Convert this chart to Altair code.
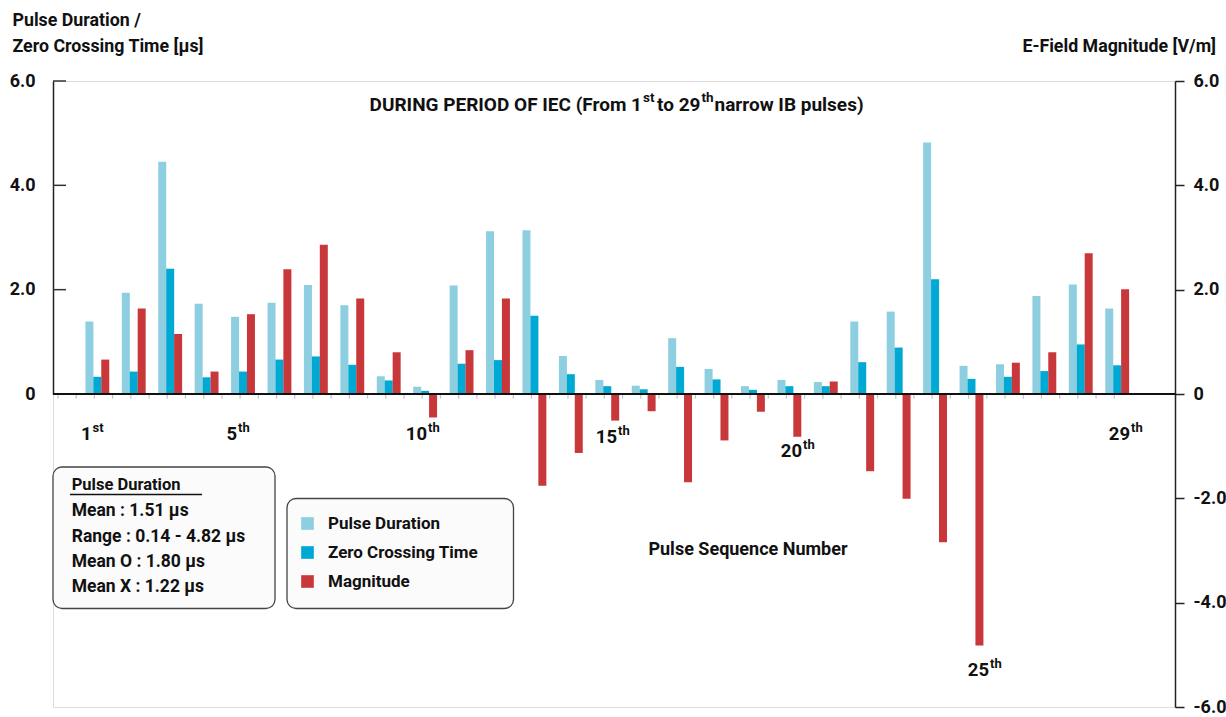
import altair as alt
import pandas as pd

# ---------------------------------------------------------------- data
pulse_no = list(range(1, 30))
pulse_duration = [1.39, 1.94, 4.45, 1.73, 1.48, 1.75, 2.09, 1.70, 0.34, 0.14,
                  2.08, 3.12, 3.14, 0.73, 0.27, 0.16, 1.07, 0.48, 0.15, 0.27,
                  0.23, 1.39, 1.58, 4.82, 0.54, 0.57, 1.88, 2.10, 1.64]
zero_crossing = [0.33, 0.43, 2.40, 0.32, 0.43, 0.66, 0.72, 0.56, 0.26, 0.06,
                 0.58, 0.65, 1.50, 0.38, 0.15, 0.09, 0.52, 0.28, 0.08, 0.15,
                 0.15, 0.61, 0.89, 2.20, 0.29, 0.33, 0.44, 0.95, 0.55]
magnitude = [0.66, 1.64, 1.15, 0.43, 1.53, 2.39, 2.86, 1.83, 0.80, -0.45,
             0.84, 1.83, -1.76, -1.13, -0.51, -0.33, -1.69, -0.89, -0.34, -0.82,
             0.24, -1.48, -2.01, -2.84, -4.82, 0.60, 0.80, 2.70, 2.01]

series_names = ["Pulse Duration", "Zero Crossing Time", "Magnitude"]
series_colors = ["#8dcfe0", "#00a9d4", "#c8383b"]
series_slot = [-1, 0, 1]

left_ticks = [0, 2, 4, 6]
right_ticks = [-6, -4, -2, 0, 2, 4, 6]

ordinal_numbers = [1, 5, 10, 15, 20, 25, 29]
ordinal_suffixes = ["st", "th", "th", "th", "th", "th", "th"]

stats_heading = "Pulse Duration"
stats_lines = ["Mean : 1.51 µs", "Range : 0.14 - 4.82 µs",
               "Mean O : 1.80 µs", "Mean X : 1.22 µs"]

# -------------------------------------------------------------- layout
FONT = "Roboto"
W, H = 1122, 626
X_MAX = 30.53            # x domain in pulse units
BAR = 8 * X_MAX / W      # one bar (8 px) in pulse units
SHIFT = 0.08             # groups sit slightly right of the index ticks

# anchor (pixel) where each ordinal number ends and its suffix starts
ordinal_anchor = [(38.5, 359), (184, 359), (374, 359), (564, 362),
                  (749, 376), (936, 595), (1077, 359)]

rows = []
for name, vals, slot in zip(series_names,
                            [pulse_duration, zero_crossing, magnitude],
                            series_slot):
    for p, v in zip(pulse_no, vals):
        rows.append({"pulse": p, "series": name, "value": v, "slot": slot})
bars_df = pd.DataFrame(rows)

x_scale = alt.Scale(domain=[0, X_MAX], nice=False, zero=False)
color_enc = alt.Color(
    "series:N",
    scale=alt.Scale(domain=series_names, range=series_colors),
    legend=alt.Legend(
        title=None, orient="none", legendX=246, legendY=434,
        direction="vertical", symbolType="square", symbolSize=160,
        symbolStrokeWidth=0, labelFont=FONT, labelFontSize=17,
        labelFontWeight="bold", labelColor="#111", labelOffset=12,
        labelLimit=400, rowPadding=11, padding=0,
    ),
)

base = alt.Chart(bars_df).transform_calculate(
    pos=f"datum.pulse + {SHIFT} + datum.slot * {BAR}"
)

# ---- left group: durations in microseconds (0 .. 6 on upper half)
left_y_scale = alt.Scale(domain=[0, 6], range=[H / 2, 0], nice=False, zero=False)
left_axis = alt.Axis(
    orient="left", values=left_ticks, title=None, grid=False,
    ticks=False, tickSize=0, labelPadding=18,
    labelExpr="datum.value == 0 ? '0' : format(datum.value, '.1f')",
    labelFont=FONT, labelFontSize=18, labelFontWeight="bold",
    labelColor="#111", domainColor="#222", domainWidth=1.5,
)

left_bars = base.transform_filter("datum.series != 'Magnitude'").mark_bar(
    size=8
).encode(
    x=alt.X("pos:Q", scale=x_scale, axis=None),
    y=alt.Y("value:Q", scale=left_y_scale, axis=left_axis),
    color=color_enc,
)

inner_ticks = alt.Chart(pd.DataFrame({"v": left_ticks[1:]})).mark_rule(
    color="#333", strokeWidth=1.5
).encode(
    y=alt.Y("v:Q", scale=left_y_scale, axis=left_axis),
    x=alt.value(0),
    x2=alt.value(13),
)

left_group = alt.layer(left_bars, inner_ticks)

# ---- right group: E-field magnitude in V/m (-6 .. 6)
right_y_scale = alt.Scale(domain=[-6, 6], nice=False, zero=False)
right_axis = alt.Axis(
    orient="right", values=right_ticks, title=None, grid=False,
    tickSize=9, tickColor="#222", tickWidth=1.5, labelPadding=9,
    labelExpr=("datum.value == 0 ? '0' : (datum.value < 0 ? '-' + "
               "format(-datum.value, '.1f') : format(datum.value, '.1f'))"),
    labelFont=FONT, labelFontSize=18, labelFontWeight="bold",
    labelColor="#111", domainColor="#222", domainWidth=1.5,
)

red_bars = base.transform_filter("datum.series == 'Magnitude'").mark_bar(
    size=8
).encode(
    x=alt.X("pos:Q", scale=x_scale, axis=None),
    y=alt.Y("value:Q", scale=right_y_scale, axis=right_axis),
    color=color_enc,
)

zero_line = alt.Chart(pd.DataFrame({"v": [0]})).mark_rule(
    color="#111", strokeWidth=2
).encode(
    y=alt.Y("v:Q", scale=right_y_scale, axis=right_axis),
    x=alt.value(0),
    x2=alt.value(W),
)

tick_df = pd.DataFrame({"t": [k * 0.5 for k in range(0, 59)],
                        "y0": 0.0, "y1": -0.09})
x_ticks = alt.Chart(tick_df).mark_rule(color="#c4c4c4", strokeWidth=1.2).encode(
    x=alt.X("t:Q", scale=x_scale, axis=None),
    y=alt.Y("y0:Q", scale=right_y_scale, axis=right_axis),
    y2="y1:Q",
)

right_group = alt.layer(x_ticks, red_bars, zero_line)

# ---- boxes behind the summary text and the legend
box_df = pd.DataFrame({"x0": [0, 234], "x1": [222, 460.5],
                       "y0": [386, 417.5], "y1": [527.5, 527.5]})
boxes = alt.Chart(box_df).mark_rect(
    cornerRadius=9, fill="#fcfbfb", stroke="#444", strokeWidth=1.3
).encode(
    x=alt.X("x0:Q", scale=None, axis=None), x2="x1:Q",
    y=alt.Y("y0:Q", scale=None, axis=None), y2="y1:Q",
)

underline = alt.Chart(pd.DataFrame({"x0": [17], "x1": [149], "y": [413.5]})).mark_rule(
    color="#111", strokeWidth=1.5
).encode(
    x=alt.X("x0:Q", scale=None, axis=None), x2="x1:Q",
    y=alt.Y("y:Q", scale=None, axis=None),
)


# ---- text annotations (pixel positions inside the plot frame)
def text_layer(items, align):
    df = pd.DataFrame(items, columns=["text", "tx", "ty", "fs"])
    return alt.Chart(df).mark_text(
        align=align, baseline="alphabetic", font=FONT,
        fontWeight="bold", color="#111",
    ).encode(
        x=alt.X("tx:Q", scale=None, axis=None),
        y=alt.Y("ty:Q", scale=None, axis=None),
        size=alt.Size("fs:Q", scale=None, legend=None),
        text="text:N",
    )


left_items = [
    ("Pulse Duration /", -40.5, -55, 17.8),
    ("Zero Crossing Time [µs]", -40.5, -29.3, 17.8),
    ("st", 590, 21, 13.5),
    ("to 29", 604, 29.5, 19),
    ("th", 648.5, 21, 13.5),
    ("narrow IB pulses)", 661.5, 29.5, 19),
    (stats_heading, 18.7, 409, 16.5),
]
for i, line in enumerate(stats_lines):
    left_items.append((line, 18.7, [435, 460.7, 486.3, 511.3][i], 17.5))
for suf, (bx, by) in zip(ordinal_suffixes, ordinal_anchor):
    left_items.append((suf, bx + 1, by - 8, 13))

right_items = [
    ("E-Field Magnitude [V/m]", 1163, -29.3, 17.8),
    ("DURING PERIOD OF IEC (From 1", 589, 29.5, 19),
]
for n, (bx, by) in zip(ordinal_numbers, ordinal_anchor):
    right_items.append((str(n), bx, by, 18.5))

center_items = [("Pulse Sequence Number", 695, 474, 18)]

annotations = alt.layer(
    boxes, underline,
    text_layer(left_items, "left"),
    text_layer(right_items, "right"),
    text_layer(center_items, "center"),
)

chart = alt.layer(annotations, left_group, right_group).resolve_scale(
    y="independent"
).properties(
    width=W, height=H,
    autosize=alt.AutoSizeParams(type="none"),
    padding={"left": 53, "top": 81, "right": 51, "bottom": 10},
).configure_view(strokeWidth=0).configure(background="white")

chart.save("out.html", embed_options={"renderer": "svg", "actions": False})
